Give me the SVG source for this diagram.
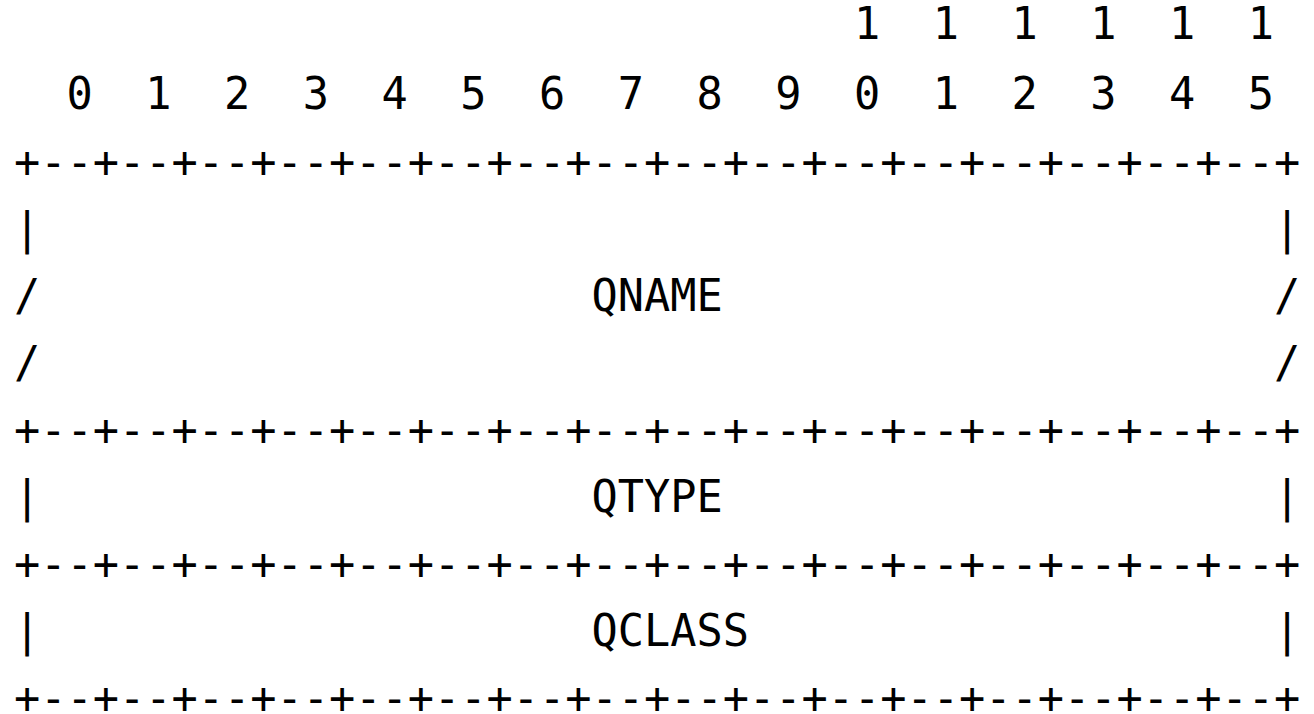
<svg xmlns="http://www.w3.org/2000/svg" width="1314" height="714" viewBox="0 0 1314 714">
<style>
text{font-family:"DejaVu Sans Mono","Liberation Mono",monospace;font-size:43.6px;fill:#000;white-space:pre}
</style>
<rect width="1314" height="714" fill="#fff"/>
<g id="ruler">
<text x="854" y="39" xml:space="preserve" textLength="420" lengthAdjust="spacing">1  1  1  1  1  1</text>
<text x="66.5" y="109" xml:space="preserve" textLength="1207.5" lengthAdjust="spacing">0  1  2  3  4  5  6  7  8  9  0  1  2  3  4  5</text>
</g>
<g id="separators">
<text x="14" y="177" textLength="1286.25" lengthAdjust="spacing">+--+--+--+--+--+--+--+--+--+--+--+--+--+--+--+--+</text>
<text x="14" y="445" textLength="1286.25" lengthAdjust="spacing">+--+--+--+--+--+--+--+--+--+--+--+--+--+--+--+--+</text>
<text x="14" y="579" textLength="1286.25" lengthAdjust="spacing">+--+--+--+--+--+--+--+--+--+--+--+--+--+--+--+--+</text>
<text x="14" y="713" textLength="1286.25" lengthAdjust="spacing">+--+--+--+--+--+--+--+--+--+--+--+--+--+--+--+--+</text>
</g>
<g id="qname">
<text x="14" y="244">|</text><text x="1274" y="244">|</text>
<text x="14" y="311">/</text><text x="591.5" y="311">QNAME</text><text x="1274" y="311">/</text>
<text x="14" y="378">/</text><text x="1274" y="378">/</text>
</g>
<g id="qtype">
<text x="14" y="512">|</text><text x="591.5" y="512">QTYPE</text><text x="1274" y="512">|</text>
</g>
<g id="qclass">
<text x="14" y="646">|</text><text x="591.5" y="646">QCLASS</text><text x="1274" y="646">|</text>
</g>
</svg>
